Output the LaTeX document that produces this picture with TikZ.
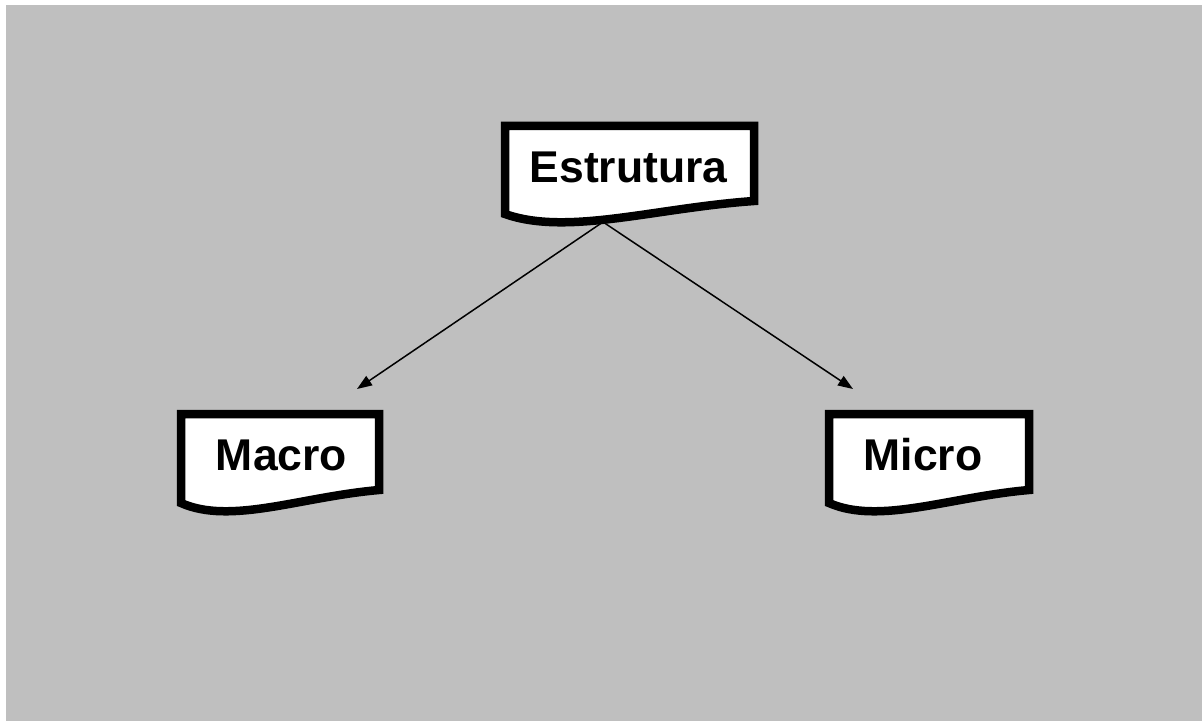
\documentclass[tikz,border=0pt]{standalone}
\usepackage{fontspec}
\setmainfont{Liberation Sans}
\usetikzlibrary{arrows.meta}

% document-shaped box: left, top, right, bottom-left y (centre line of the border)
\newcommand\docshape[4]{%
  \draw[docbox] (#1,#4) -- (#1,#2) -- (#3,#2) -- (#3,#4-13)
    .. controls ({#1+0.60*(#3-#1)},#4-6) and ({#1+0.25*(#3-#1)},#4+22) .. (#1,#4) -- cycle;}

\tikzset{
  docbox/.style={draw=black, fill=white, line width=8.5pt, line join=miter},
  doctext/.style={inner sep=0pt, anchor=center, text=black,
                  font=\bfseries\fontsize{44.5}{52}\selectfont},
  link/.style={draw=black, line width=1.5pt, -{Triangle[length=15pt,width=11pt]}}
}

\begin{document}
\begin{tikzpicture}[x=1pt,y=-1pt]
  \useasboundingbox (0,0) rectangle (1202,722);
  \fill[white] (0,0) rectangle (1202,722);
  \fill[black!25] (6,5) rectangle (1202,721);

  % connectors
  \coordinate (src) at (603,222);
  \coordinate (ltip) at (357,389);
  \coordinate (rtip) at (853,389);
  \draw[link] (src) -- (ltip);
  \draw[link] (src) -- (rtip);

  % boxes
  \docshape{505}{126}{754}{214}
  \docshape{181}{414}{379}{503}
  \docshape{829}{414}{1029}{503}

  % labels
  \node[doctext] (estrutura) at (628.5,167.5) {Estrutura};
  \node[doctext] (macro) at (281.5,455) {Macro};
  \node[doctext] (micro) at (923,455) {Micro};
\end{tikzpicture}
\end{document}
